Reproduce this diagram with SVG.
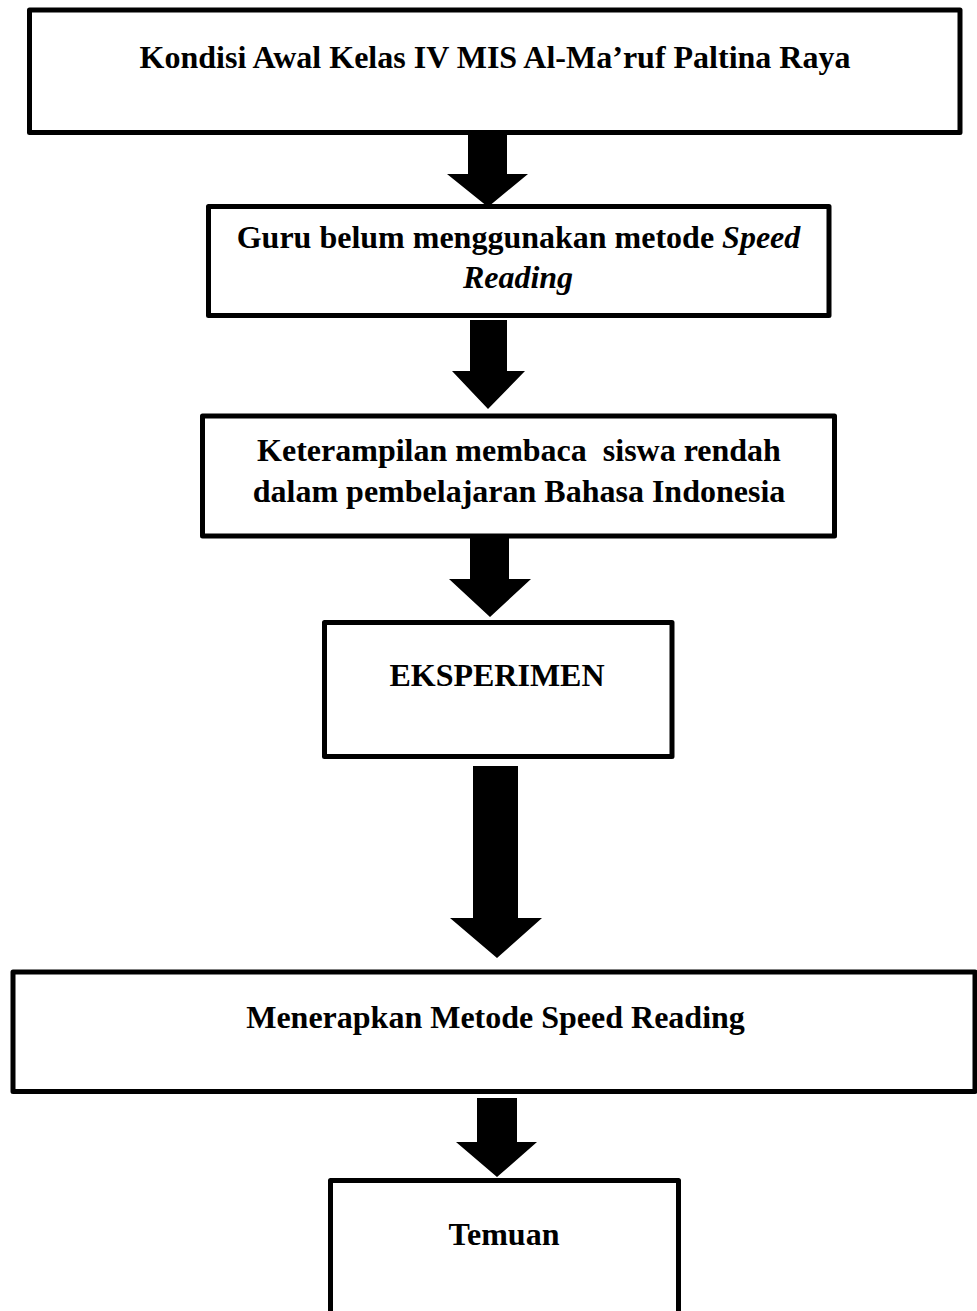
<svg xmlns="http://www.w3.org/2000/svg" width="977" height="1311" viewBox="0 0 977 1311">
<style>
.box{fill:#fff;stroke:#000;stroke-width:5;stroke-linejoin:round}
.t{font-family:"Liberation Serif","Times New Roman",serif;font-weight:bold;font-size:32px;fill:#000;text-anchor:middle}
.arr{fill:#000;stroke:none}
</style>
<rect width="977" height="1311" fill="#fff"/>
<g id="connectors">
<polygon class="arr" points="468,133 507,133 507,174 528,174 488,207 447,174 468,174"/>
<polygon class="arr" points="470,320 507,320 507,371 525,371 488,409 452,371 470,371"/>
<polygon class="arr" points="470,538 509,538 509,579 531,579 490,617 449,579 470,579"/>
<polygon class="arr" points="473,766 518,766 518,918 542,918 497,958 450,918 473,918"/>
<polygon class="arr" points="477,1098 517,1098 517,1142 537,1142 497,1177 456,1142 477,1142"/>
</g>
<g id="node1">
<rect class="box" x="29.5" y="10" width="930.5" height="122.5"/>
<text class="t" x="495" y="67.5">Kondisi Awal Kelas IV MIS Al-Ma’ruf Paltina Raya</text>
</g>
<g id="node2">
<rect class="box" x="208.5" y="206.5" width="620.5" height="109"/>
<text class="t" x="518.5" y="248">Guru belum menggunakan metode <tspan font-style="italic">Speed</tspan></text>
<text class="t" x="518" y="288" font-style="italic">Reading</text>
</g>
<g id="node3">
<rect class="box" x="202.5" y="416" width="632" height="120"/>
<text class="t" x="519" y="460.5" xml:space="preserve">Keterampilan membaca  siswa rendah</text>
<text class="t" x="519" y="502">dalam pembelajaran Bahasa Indonesia</text>
</g>
<g id="node4">
<rect class="box" x="324.5" y="622.5" width="347.5" height="134"/>
<text class="t" x="497" y="686">EKSPERIMEN</text>
</g>
<g id="node5">
<rect class="box" x="13" y="972" width="962" height="119.5"/>
<text class="t" x="495.5" y="1028">Menerapkan Metode Speed Reading</text>
</g>
<g id="node6">
<rect class="box" x="330.5" y="1180.5" width="348" height="200"/>
<text class="t" x="504" y="1245">Temuan</text>
</g>
</svg>
